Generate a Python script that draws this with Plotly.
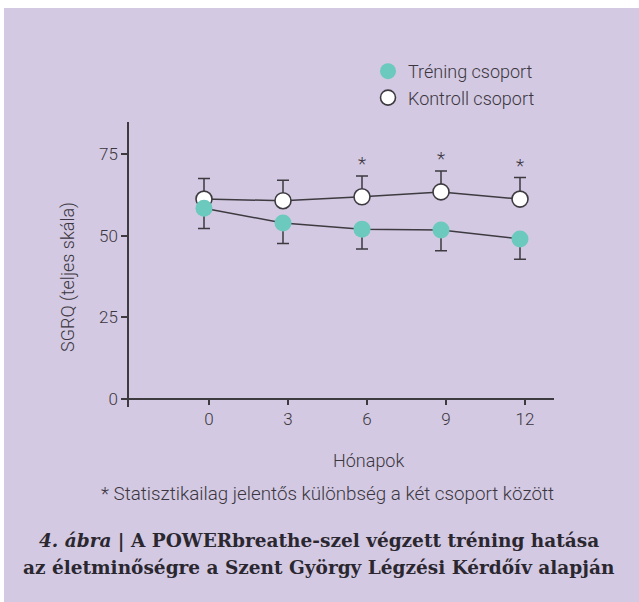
import plotly.graph_objects as go

months = [0, 3, 6, 9, 12]
tick_labels = ["0", "3", "6", "9", "12"]
training = [58.4, 53.9, 52.0, 51.7, 49.0]
training_err = [6.2, 6.3, 6.1, 6.3, 6.2]
control = [61.2, 60.7, 61.9, 63.4, 61.2]
control_err = [6.3, 6.3, 6.4, 6.4, 6.6]
significant = [False, False, True, True, True]
y_ticks = [0, 25, 50, 75]

W, H = 639, 602
L, R, T, B = 129, 554, 122, 407  # plot area in pixels

BG = "rgb(211,201,226)"
TXT = "#3b3640"
LINE = "#3d3a40"
TEAL = "#6cc9be"
FONT = "Roboto"
FW = 300

def px_x(p):
    return (p - L) / (R - L)

def px_y(p):
    return (B - p) / (B - T)

fig = go.Figure()

fig.add_trace(go.Scatter(
    x=months, y=control, mode="lines+markers", showlegend=False,
    line=dict(color=LINE, width=1.5),
    marker=dict(size=16, color="white", line=dict(color=LINE, width=1.6)),
    error_y=dict(type="data", symmetric=False, array=control_err,
                 arrayminus=[0] * len(months), color=LINE, thickness=1.5, width=6),
))
fig.add_trace(go.Scatter(
    x=months, y=training, mode="lines+markers", showlegend=False,
    line=dict(color=LINE, width=1.5),
    marker=dict(size=17, color=TEAL, line=dict(width=0)),
    error_y=dict(type="data", symmetric=False, array=[0] * len(months),
                 arrayminus=training_err, color=LINE, thickness=1.5, width=6),
))
# legend entries
fig.add_trace(go.Scatter(x=[None], y=[None], mode="markers", name="Tréning csoport",
                         marker=dict(size=16, color=TEAL)))
fig.add_trace(go.Scatter(x=[None], y=[None], mode="markers", name="Kontroll csoport",
                         marker=dict(size=15, color="white", line=dict(color=LINE, width=1.6))))

for m, c, e, s in zip(months, control, control_err, significant):
    if s:
        fig.add_annotation(x=m, y=c + e, text="*", showarrow=False, xanchor="center",
                           yanchor="middle", yshift=12,
                           font=dict(family=FONT, size=19, color=TXT, weight=FW))

xscale = (520 - 204) / 12.0
x0 = -(204 - L) / xscale
x1 = 12 + (R - 520) / xscale
yscale = (399 - 154) / 75.0
y0 = -(B - 399) / yscale
y1 = (399 - T) / yscale

# white strips at top and left of the panel
fig.add_shape(type="rect", xref="paper", yref="paper", layer="below",
              x0=px_x(-5), x1=px_x(W + 5), y0=px_y(8), y1=px_y(-5),
              fillcolor="white", line=dict(width=0))
fig.add_shape(type="rect", xref="paper", yref="paper", layer="below",
              x0=px_x(-5), x1=px_x(4), y0=px_y(H + 5), y1=px_y(-5),
              fillcolor="white", line=dict(width=0))

fig.add_annotation(xref="x", yref="paper", x=6 + 0.25, y=px_y(460), text="Hónapok",
                   showarrow=False, xanchor="center", yanchor="middle",
                   font=dict(family=FONT, size=18, color=TXT, weight=FW))
fig.add_annotation(xref="paper", yref="paper", x=px_x(327), y=px_y(494),
                   text="* Statisztikailag jelentős különbség a két csoport között",
                   showarrow=False, xanchor="center", yanchor="middle",
                   font=dict(family=FONT, size=18.8, color=TXT, weight=FW))
fig.add_annotation(xref="paper", yref="paper", x=px_x(319), y=px_y(541),
                   text="<b><i>4. ábra</i> | A POWERbreathe-szel végzett tréning hatása</b>",
                   showarrow=False, xanchor="center", yanchor="middle",
                   font=dict(family="DejaVu Serif", size=18.5, color="#2b2730"))
fig.add_annotation(xref="paper", yref="paper", x=px_x(319), y=px_y(567),
                   text="<b>az életminőségre a Szent György Légzési Kérdőív alapján</b>",
                   showarrow=False, xanchor="center", yanchor="middle",
                   font=dict(family="DejaVu Serif", size=18.5, color="#2b2730"))
fig.add_annotation(xref="paper", yref="paper", x=px_x(68), y=px_y(277),
                   text="SGRQ (teljes skála)", textangle=-90, showarrow=False,
                   xanchor="center", yanchor="middle",
                   font=dict(family=FONT, size=18, color=TXT, weight=FW))

fig.update_layout(
    width=W, height=H,
    margin=dict(l=L, r=W - R, t=T, b=H - B, pad=0),
    paper_bgcolor=BG, plot_bgcolor="rgba(0,0,0,0)",
    font=dict(family=FONT, size=17, color=TXT, weight=FW),
    showlegend=True,
    legend=dict(x=px_x(368), y=px_y(53), xanchor="left", yanchor="top",
                bgcolor="rgba(0,0,0,0)", font=dict(family=FONT, size=18, color=TXT, weight=FW),
                itemwidth=30, tracegroupgap=0),
    xaxis=dict(range=[x0, x1], tickvals=[m + 0.19 for m in months], ticktext=tick_labels,
               showgrid=False, zeroline=False, showline=True, linecolor=LINE, linewidth=1.5,
               ticks="outside", ticklen=5, tickwidth=1.5, tickcolor=LINE,
               anchor="free", position=px_y(399),
               tickfont=dict(family=FONT, size=17, color=TXT, weight=FW)),
    yaxis=dict(range=[y0, y1], tickvals=y_ticks, showgrid=False, zeroline=False,
               showline=True, linecolor=LINE, linewidth=1.5,
               ticks="outside", ticklen=6, tickwidth=1.5, tickcolor=LINE,
               tickfont=dict(family=FONT, size=17, color=TXT, weight=FW)),
)

fig.write_html("out.html",
               post_script="document.documentElement.style.background='" + BG + "';"
                           "document.body.style.background='" + BG + "';"
                           "document.body.style.margin='0';"
                           "document.documentElement.style.overflow='hidden';")
